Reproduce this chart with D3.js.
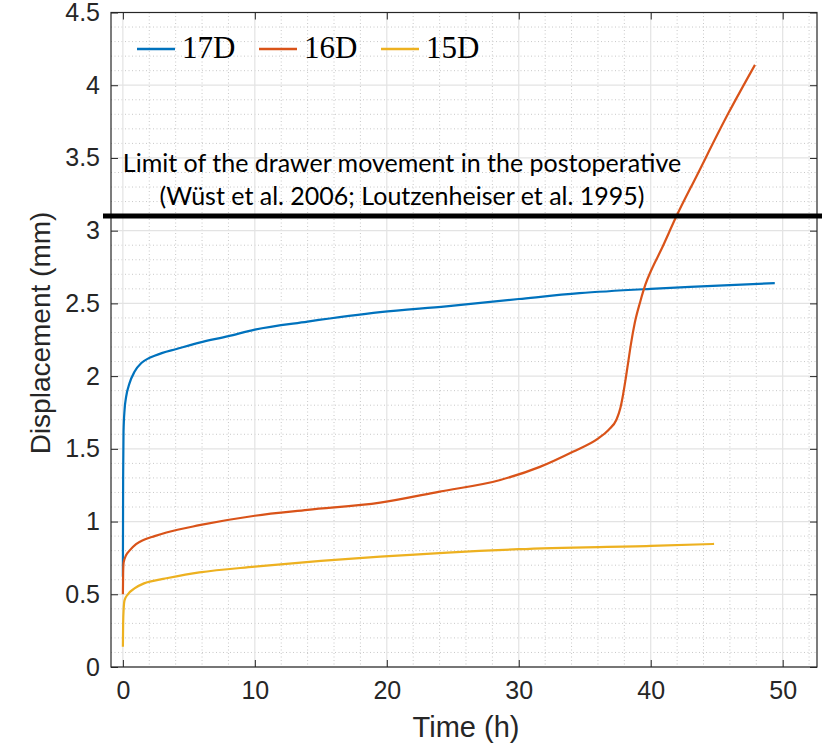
<!DOCTYPE html>
<html>
<head>
<meta charset="utf-8">
<script src="https://cdn.jsdelivr.net/npm/d3@7"></script>
<style>
	body { margin: 0; background: #fff; }
	svg { display: block; }
</style>
</head>
<body>
<div id="chart"></div>
<script>

// DATA //

const seriesNames = [ '17D', '16D', '15D' ];
const seriesColors = [ '#0072BD', '#D95319', '#EDB120' ];

const time17D = [ 0, 0.02, 0.05, 0.13, 0.25, 0.5, 0.88, 1.4, 1.9, 2.4, 3.0, 4.0, 5.8, 8, 10, 14, 19.5, 24.5, 30, 34.6, 40, 44.7, 49.4 ];
const disp17D = [ 0.62, 1.3, 1.62, 1.77, 1.86, 1.95, 2.03, 2.09, 2.12, 2.14, 2.16, 2.185, 2.23, 2.275, 2.32, 2.375, 2.44, 2.48, 2.53, 2.57, 2.6, 2.62, 2.64 ];

const time16D = [ 0, 0.02, 0.06, 0.25, 0.5, 1.0, 1.6, 2.4, 3.3, 5.8, 10, 14, 19.5, 24, 28.6, 31.6, 34.1, 36.0, 36.8, 37.4, 37.7, 37.9, 38.1, 38.3, 38.5, 38.8, 39.2, 39.6, 40.1, 40.8, 41.9, 43.5, 45.9, 47.9 ];
const disp16D = [ 0.5, 0.65, 0.72, 0.77, 0.8, 0.845, 0.875, 0.9, 0.925, 0.975, 1.04, 1.08, 1.13, 1.206, 1.286, 1.376, 1.48, 1.57, 1.63, 1.70, 1.78, 1.87, 1.98, 2.1, 2.22, 2.37, 2.51, 2.63, 2.74, 2.87, 3.09, 3.38, 3.81, 4.14 ];

const time15D = [ 0, 0.02, 0.06, 0.13, 0.38, 0.88, 1.6, 2.4, 3.3, 5.8, 10, 15, 19.5, 30, 40, 44.8 ];
const disp15D = [ 0.14, 0.3, 0.4, 0.46, 0.5, 0.54, 0.575, 0.594, 0.61, 0.65, 0.69, 0.73, 0.759, 0.81, 0.833, 0.846 ];

const xTicks = [ 0, 10, 20, 30, 40, 50 ];
const yTicks = [ 0, 0.5, 1, 1.5, 2, 2.5, 3, 3.5, 4, 4.5 ];

const limitValue = 3.1;
const limitText = [
	'Limit of the drawer movement in the postoperative',
	'(Wüst et al. 2006; Loutzenheiser et al. 1995)'
];


// SETUP //

const width = 828;
const height = 744;
const plot = { left: 111, right: 817, top: 12.5, bottom: 667 };
const axisColor = '#262626';

const svg = d3.select( '#chart' ).append( 'svg' )
	.attr( 'width', width )
	.attr( 'height', height );

const x = d3.scaleLinear()
	.domain([ -0.9, 52.6 ])
	.range([ plot.left, plot.right ]);

const y = d3.scaleLinear()
	.domain([ 0, 4.5 ])
	.range([ plot.bottom, plot.top ]);


// GRID //

const grid = svg.append( 'g' );

// minor grid: every 2 h and every 0.1 mm
const xMinor = d3.range( 0, 53, 2 ).filter( d => d % 10 !== 0 );
const yMinor = d3.range( 1, 45 ).map( d => d / 10 ).filter( d => Math.round( d * 10 ) % 5 !== 0 );

grid.selectAll( '.xminor' )
	.data( xMinor )
	.enter().append( 'line' )
	.attr( 'x1', d => x( d ) ).attr( 'x2', d => x( d ) )
	.attr( 'y1', plot.top ).attr( 'y2', plot.bottom )
	.attr( 'stroke', '#c8c8c8' )
	.attr( 'stroke-dasharray', '1,2.5' );

grid.selectAll( '.yminor' )
	.data( yMinor )
	.enter().append( 'line' )
	.attr( 'y1', d => y( d ) ).attr( 'y2', d => y( d ) )
	.attr( 'x1', plot.left ).attr( 'x2', plot.right )
	.attr( 'stroke', '#c8c8c8' )
	.attr( 'stroke-dasharray', '1,2.5' );

grid.selectAll( '.xmajor' )
	.data( xTicks )
	.enter().append( 'line' )
	.attr( 'x1', d => x( d ) ).attr( 'x2', d => x( d ) )
	.attr( 'y1', plot.top ).attr( 'y2', plot.bottom )
	.attr( 'stroke', '#e3e3e3' )
	.attr( 'stroke-width', 1.2 );

grid.selectAll( '.ymajor' )
	.data( yTicks )
	.enter().append( 'line' )
	.attr( 'y1', d => y( d ) ).attr( 'y2', d => y( d ) )
	.attr( 'x1', plot.left ).attr( 'x2', plot.right )
	.attr( 'stroke', '#e3e3e3' )
	.attr( 'stroke-width', 1.2 );


// AXES //

const tickFont = '"Liberation Sans", Arial, sans-serif';

function styleAxis( g ) {
	g.select( '.domain' ).remove();
	g.selectAll( '.tick line' ).attr( 'stroke', axisColor );
	g.selectAll( '.tick text' )
		.attr( 'fill', axisColor )
		.style( 'font-family', tickFont )
		.style( 'font-size', '25px' );
}

svg.append( 'g' )
	.attr( 'transform', `translate(0,${plot.bottom})` )
	.call( d3.axisBottom( x ).tickValues( xTicks ).tickSize( -7 ).tickPadding( 14 ).tickFormat( d3.format( 'd' ) ) )
	.call( styleAxis );

svg.append( 'g' )
	.attr( 'transform', `translate(0,${plot.top})` )
	.call( d3.axisTop( x ).tickValues( xTicks ).tickSize( -7 ).tickFormat( '' ) )
	.call( styleAxis );

svg.append( 'g' )
	.attr( 'transform', `translate(${plot.left},0)` )
	.call( d3.axisLeft( y ).tickValues( yTicks ).tickSize( -7 ).tickPadding( 11 ).tickFormat( d => String( d ) ) )
	.call( styleAxis );

svg.append( 'g' )
	.attr( 'transform', `translate(${plot.right},0)` )
	.call( d3.axisRight( y ).tickValues( yTicks ).tickSize( -7 ).tickFormat( '' ) )
	.call( styleAxis );

// box around the plot area
svg.append( 'rect' )
	.attr( 'x', plot.left )
	.attr( 'y', plot.top )
	.attr( 'width', plot.right - plot.left )
	.attr( 'height', plot.bottom - plot.top )
	.attr( 'fill', 'none' )
	.attr( 'stroke', axisColor )
	.attr( 'stroke-width', 1.2 );

svg.append( 'text' )
	.attr( 'x', ( plot.left + plot.right ) / 2 + 2 )
	.attr( 'y', 737 )
	.attr( 'text-anchor', 'middle' )
	.attr( 'fill', axisColor )
	.style( 'font-family', tickFont )
	.style( 'font-size', '29px' )
	.text( 'Time (h)' );

svg.append( 'text' )
	.attr( 'transform', 'translate(50,333) rotate(-90)' )
	.attr( 'text-anchor', 'middle' )
	.attr( 'fill', axisColor )
	.style( 'font-family', tickFont )
	.style( 'font-size', '28px' )
	.text( 'Displacement (mm)' );


// SERIES //

const series = [
	{ t: time17D, v: disp17D },
	{ t: time16D, v: disp16D },
	{ t: time15D, v: disp15D }
];

const line = d3.line()
	.x( d => x( d[0] ) )
	.y( d => y( d[1] ) )
	.curve( d3.curveMonotoneX );

svg.append( 'g' ).selectAll( 'path' )
	.data( series )
	.enter().append( 'path' )
	.attr( 'd', s => line( d3.zip( s.t, s.v ) ) )
	.attr( 'fill', 'none' )
	.attr( 'stroke', ( s, i ) => seriesColors[ i ] )
	.attr( 'stroke-width', 2.2 )
	.attr( 'stroke-linejoin', 'round' );


// LIMIT LINE //

svg.append( 'line' )
	.attr( 'x1', plot.left - 8 )
	.attr( 'x2', plot.right + 5 )
	.attr( 'y1', y( limitValue ) )
	.attr( 'y2', y( limitValue ) )
	.attr( 'stroke', '#000' )
	.attr( 'stroke-width', 5 );

const note = svg.append( 'text' )
	.attr( 'text-anchor', 'middle' )
	.attr( 'fill', '#000' )
	.style( 'font-family', 'Lato, "Open Sans", sans-serif' )
	.style( 'font-size', '25px' );

note.selectAll( 'tspan' )
	.data( limitText )
	.enter().append( 'tspan' )
	.attr( 'x', 402 )
	.attr( 'y', ( d, i ) => 172 + i * 33 )
	.text( d => d );


// LEGEND //

const legend = svg.append( 'g' ).selectAll( 'g' )
	.data( seriesNames )
	.enter().append( 'g' )
	.attr( 'transform', ( d, i ) => `translate(${137 + i * 122},49)` );

legend.append( 'line' )
	.attr( 'x1', 0 ).attr( 'x2', 38 )
	.attr( 'stroke', ( d, i ) => seriesColors[ i ] )
	.attr( 'stroke-width', 2.4 );

legend.append( 'text' )
	.attr( 'x', 45 )
	.attr( 'y', 9 )
	.style( 'font-family', '"Liberation Serif", "Times New Roman", serif' )
	.style( 'font-size', '31px' )
	.attr( 'fill', '#000' )
	.text( d => d );

</script>
</body>
</html>
